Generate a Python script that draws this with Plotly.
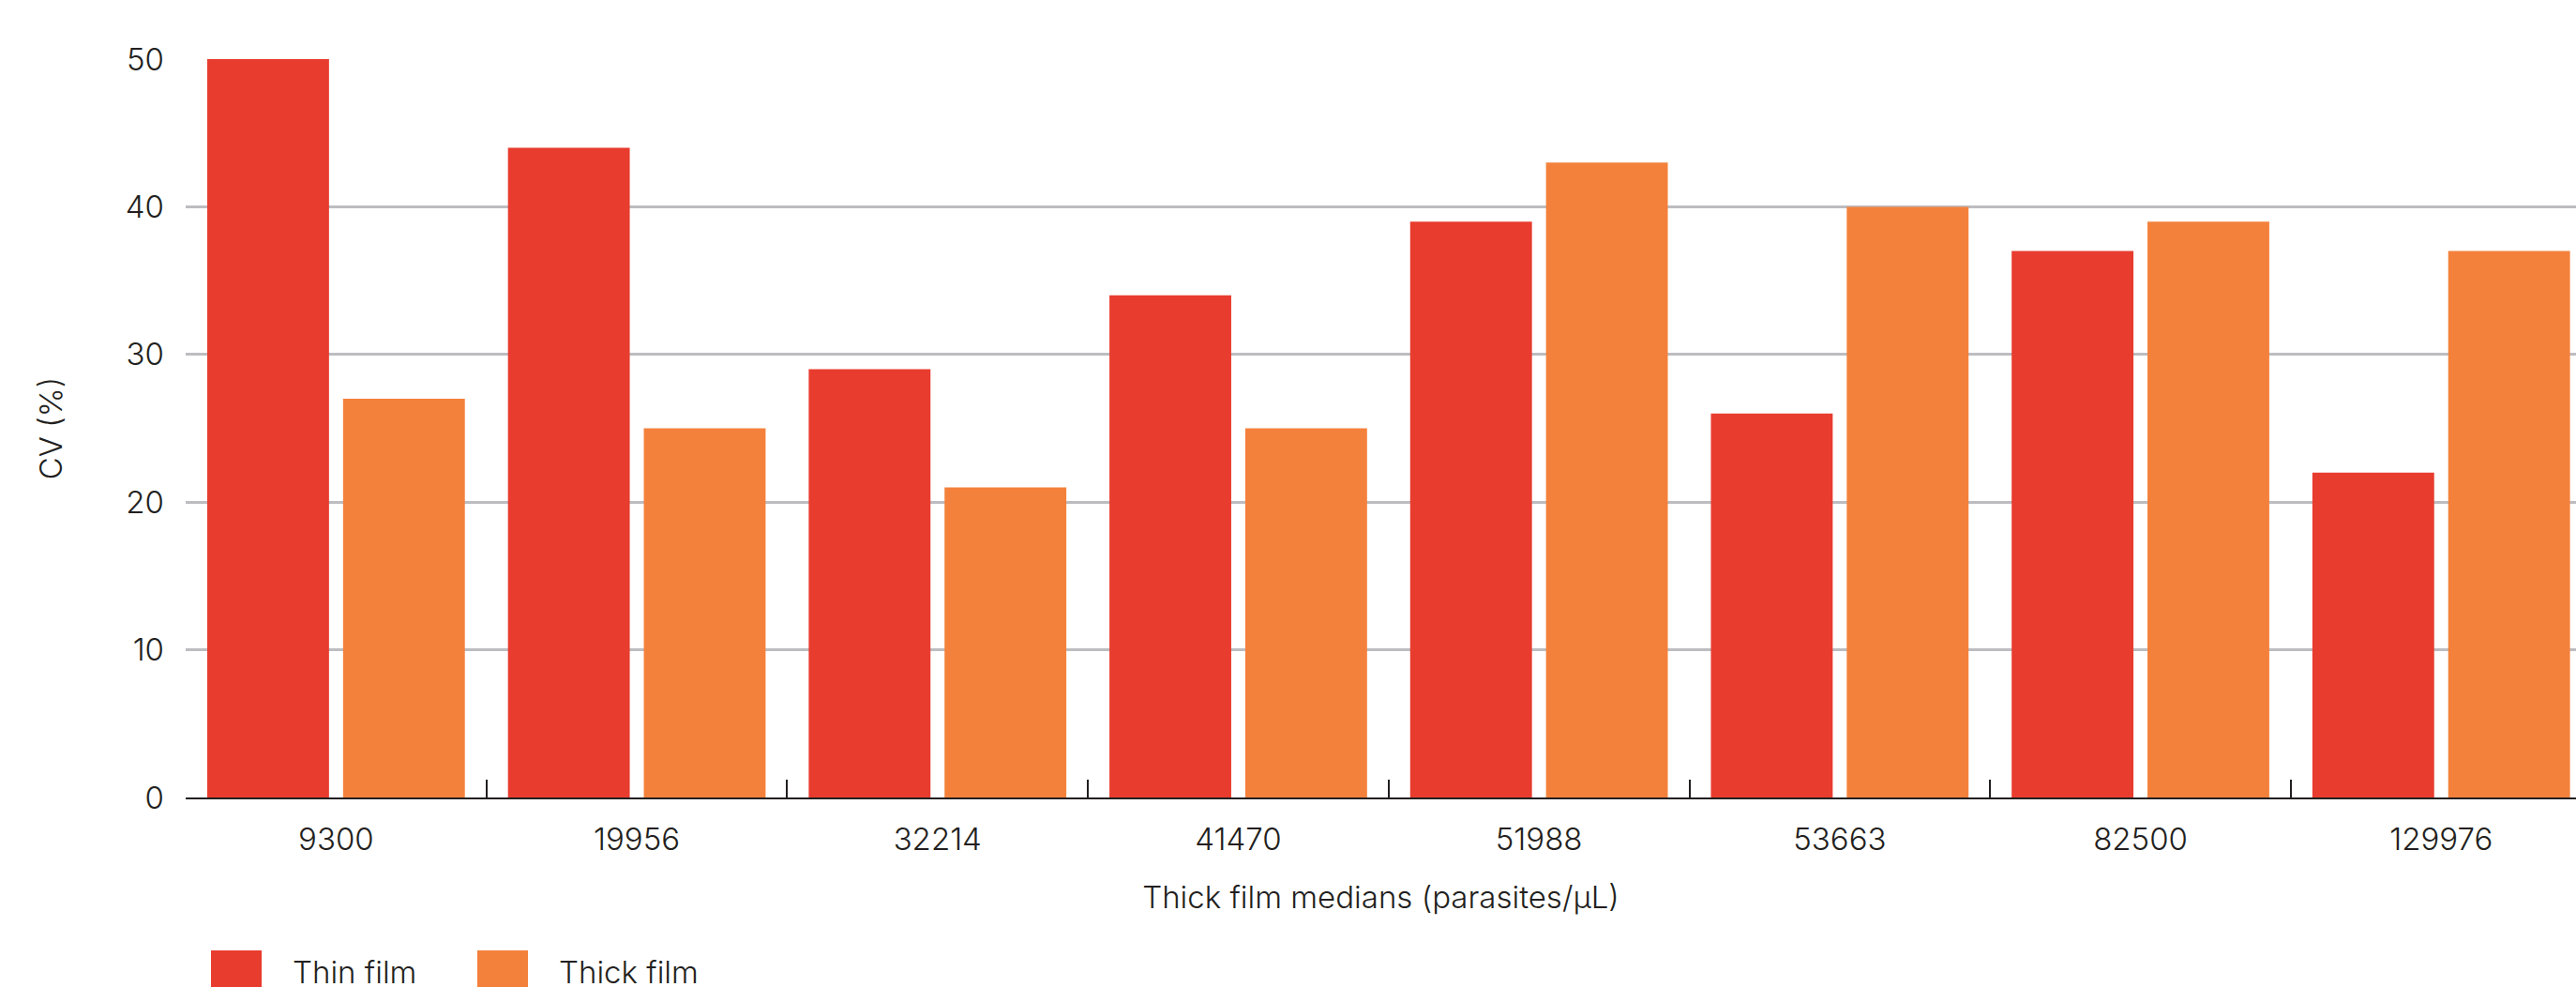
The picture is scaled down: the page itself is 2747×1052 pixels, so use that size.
import plotly.graph_objects as go

categories = ["9300", "19956", "32214", "41470", "51988", "53663", "82500", "129976"]
thin_film = [50, 44, 29, 34, 39, 26, 37, 22]
thick_film = [27, 25, 21, 25, 43, 40, 39, 37]
series_names = ["Thin film", "Thick film"]
y_ticks = [0, 10, 20, 30, 40, 50]

RED = "#E83C2F"
ORANGE = "#F4813B"
TEXT = "#231F20"
GRID = "#BDBDC1"
FONT = "Inter"
WEIGHT = 300

W, H = 2747, 1052
L, R, T, B = 198, 0, 63, 202
PW, PH = W - L - R, H - T - B

fig = go.Figure()
fig.add_trace(go.Bar(x=categories, y=thin_film, name=series_names[0],
                     marker=dict(color=RED, line=dict(width=0))))
fig.add_trace(go.Bar(x=categories, y=thick_film, name=series_names[1],
                     marker=dict(color=ORANGE, line=dict(width=0))))

cat_w = 320.7
x_end = -0.5 + PW / cat_w

f = dict(family=FONT, size=33, color=TEXT, weight=WEIGHT)

fig.update_layout(
    width=W, height=H,
    margin=dict(l=L, r=R, t=T, b=B, autoexpand=False),
    paper_bgcolor="white", plot_bgcolor="white",
    barmode="group", bargap=0.0966, bargroupgap=0.1034,
    showlegend=False,
    font=f,
    xaxis=dict(
        type="category", range=[-0.5, x_end],
        tickson="boundaries", ticks="inside", ticklen=19, tickwidth=2,
        tickcolor=TEXT, showline=True, linecolor=TEXT, linewidth=2,
        showgrid=False, tickfont=f,
        ticklabelstandoff=14,
        title=dict(text="Thick film medians (parasites/µL)", font=f, standoff=32),
        automargin=False,
    ),
    yaxis=dict(
        range=[0, 50], tickvals=y_ticks, showgrid=True, gridcolor=GRID,
        gridwidth=2.5, zeroline=False, showline=False, ticks="",
        tickfont=f, ticklabelstandoff=22,
        title=dict(text="CV (%)", font=f, standoff=57),
        automargin=False,
    ),
)

# custom legend (large square swatches)
def px_x(p):
    return (p - L) / PW

def px_y(p):
    return (T + PH - p) / PH

legend_items = [(series_names[0], RED, 225, 310), (series_names[1], ORANGE, 509, 594)]
for name, col, sx, tx in legend_items:
    fig.add_shape(type="rect", xref="paper", yref="paper",
                  x0=px_x(sx), x1=px_x(sx + 54), y0=px_y(1067), y1=px_y(1013),
                  fillcolor=col, line=dict(width=0), layer="above")
    fig.add_annotation(text=name, xref="paper", yref="paper",
                       x=px_x(tx), y=px_y(1036), xanchor="left", yanchor="middle",
                       showarrow=False, font=f)

fig.write_html("out.html")
